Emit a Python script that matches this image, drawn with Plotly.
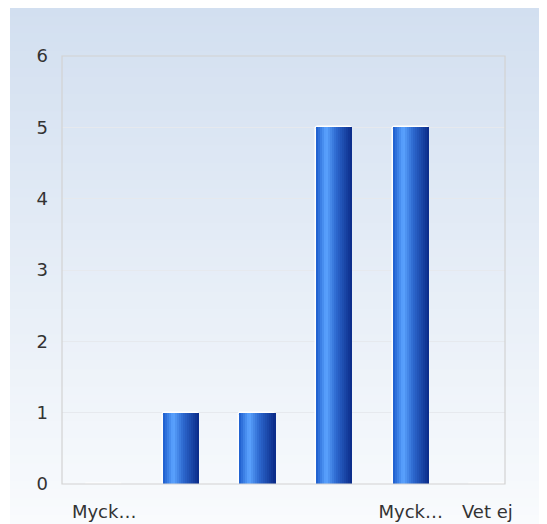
import plotly.graph_objects as go

# ---- data ----
categories = ["Mycket dåligt", "Dåligt", "Varken eller", "Bra", "Mycket bra", "Vet ej"]
tick_labels = ["Myck…", "", "", "", "Myck…", "Vet ej"]
values = [0, 1, 1, 5, 5, 0]
y_ticks = [0, 1, 2, 3, 4, 5, 6]

OFF = 8  # page body margin
W, H = 547 - OFF, 524 - OFF
L, T = 62 - OFF, 56 - OFF
R, B = 547 - 505, 524 - 484
pw, ph = W - L - R, H - T - B

def lerp(c1, c2, t):
    return tuple(round(a + (b - a) * t) for a, b in zip(c1, c2))

def hexc(c):
    return "#%02x%02x%02x" % c

def grad(stops, t):
    for (t0, c0), (t1, c1) in zip(stops, stops[1:]):
        if t0 <= t <= t1:
            return lerp(c0, c1, (t - t0) / (t1 - t0) if t1 > t0 else 0)
    return stops[-1][1]

xs = list(range(len(categories)))
fig = go.Figure()

bw = 0.47
fig.add_trace(go.Bar(x=xs, y=values, width=bw,
                     marker=dict(color="#1c5fcf", line=dict(color="white", width=1.5), cornerradius=3),
                     hoverinfo="skip", showlegend=False))

bar_stops = [(0.0, (0x1c, 0x5c, 0xcc)), (0.28, (0x5c, 0xa4, 0xff)), (0.55, (0x2e, 0x6a, 0xd0)), (1.0, (0x0a, 0x2a, 0x88))]
N = 18
sw = bw / N
for i in range(N):
    t = (i + 0.5) / N
    fig.add_trace(go.Bar(x=xs, y=values, width=sw * 1.05, offset=-bw / 2 + i * sw,
                         marker=dict(color=hexc(grad(bar_stops, t)), line=dict(width=0)),
                         hovertext=categories, hoverinfo="text+y", showlegend=False))

# background gradient bands (page px -> paper)
bg_top, bg_bot = (0xd2, 0xdf, 0xf0), (0xf9, 0xfb, 0xfd)
y_top_px, y_bot_px = 0, H
x0p, x1p = (2 - L) / pw, (W - L) / pw
nb = 60
shapes = []
for k in range(nb):
    ya = y_top_px + (y_bot_px - y_top_px) * k / nb
    yb = y_top_px + (y_bot_px - y_top_px) * (k + 1) / nb + 0.8
    c = lerp(bg_top, bg_bot, (k + 0.5) / nb)
    shapes.append(dict(type="rect", xref="paper", yref="paper", x0=x0p, x1=x1p,
                       y0=(T + ph - yb) / ph, y1=(T + ph - ya) / ph,
                       fillcolor=hexc(c), line=dict(width=0), layer="below"))
shapes.append(dict(type="rect", xref="paper", yref="paper", x0=0, x1=1, y0=0, y1=1,
                   line=dict(color="#d2d2d2", width=1.2), layer="above"))

fig.update_layout(
    width=W, height=H,
    margin=dict(l=L, r=R, t=T, b=B, pad=0, autoexpand=False),
    paper_bgcolor="white", plot_bgcolor="rgba(0,0,0,0)",
    barmode="overlay", bargap=0,
    font=dict(family="DejaVu Sans", size=18, color="#333333"),
    shapes=shapes,
    xaxis=dict(range=[-0.55, 5.23], tickvals=xs, ticktext=tick_labels, showgrid=False, automargin=False,
               zeroline=False, showline=False, ticks="", ticklabelstandoff=15, fixedrange=True),
    yaxis=dict(range=[0, 6], tickvals=y_ticks, showgrid=True, gridcolor="#e6e9ee", gridwidth=1, automargin=False,
               zeroline=False, showline=False, ticks="", ticklabelstandoff=13, fixedrange=True),
)

fig.write_html("out.html")
